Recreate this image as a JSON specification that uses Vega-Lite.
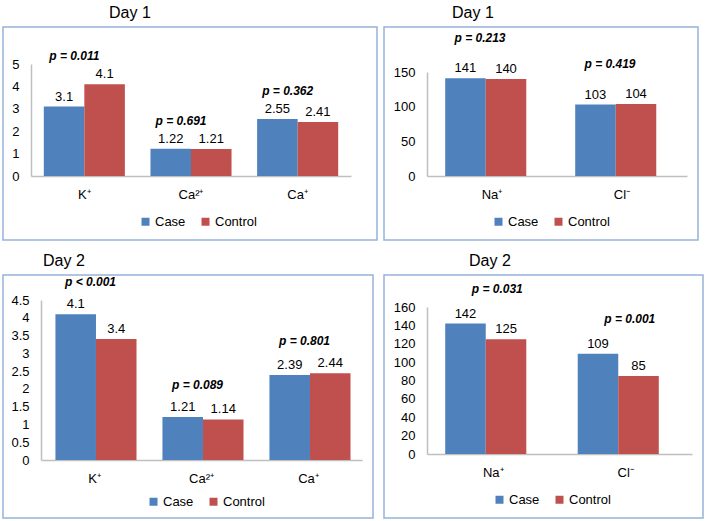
{
  "$schema": "https://vega.github.io/schema/vega-lite/v6.json",
  "padding": {"left": 2, "top": 4, "right": 0, "bottom": 0},
  "columns": 2,
  "align": "each",
  "spacing": {"row": 11, "column": 5},
  "config": {
    "font": "Liberation Sans",
    "view": {"stroke": "#95B3D7", "strokeWidth": 1.5},
    "axis": {"domainColor": "#BFBFBF", "domainWidth": 1.5, "ticks": false, "tickSize": 0, "grid": false, "labelFontSize": 13, "labelColor": "#000000", "labelPadding": 12, "labelOverlap": false, "labelBound": false},
    "title": {"fontSize": 16, "fontWeight": "normal", "anchor": "start", "offset": 6, "color": "#000000"},
    "legend": {"orient": "none", "direction": "horizontal", "symbolType": "square", "symbolSize": 64, "labelFontSize": 13, "labelColor": "#000000", "columnPadding": 13, "labelOffset": 3, "padding": 0, "symbolStrokeWidth": 0},
    "text": {"font": "Liberation Sans", "fontSize": 13, "color": "#000000"}
  },
  "resolve": {"scale": {"color": "independent", "x": "independent", "y": "independent"}, "legend": {"color": "independent"}},
  "datasets": {
    "d1a": [
      {"ion": "K⁺", "group": "Case", "value": 3.1, "p": "p = 0.011"},
      {"ion": "K⁺", "group": "Control", "value": 4.1, "p": "p = 0.011"},
      {"ion": "Ca²⁺", "group": "Case", "value": 1.22, "p": "p = 0.691"},
      {"ion": "Ca²⁺", "group": "Control", "value": 1.21, "p": "p = 0.691"},
      {"ion": "Ca⁺", "group": "Case", "value": 2.55, "p": "p = 0.362"},
      {"ion": "Ca⁺", "group": "Control", "value": 2.41, "p": "p = 0.362"}
    ],
    "d1b": [
      {"ion": "Na⁺", "group": "Case", "value": 141, "p": "p = 0.213"},
      {"ion": "Na⁺", "group": "Control", "value": 140, "p": "p = 0.213"},
      {"ion": "Cl⁻", "group": "Case", "value": 103, "p": "p = 0.419"},
      {"ion": "Cl⁻", "group": "Control", "value": 104, "p": "p = 0.419"}
    ],
    "d2a": [
      {"ion": "K⁺", "group": "Case", "value": 4.1, "p": "p < 0.001"},
      {"ion": "K⁺", "group": "Control", "value": 3.4, "p": "p < 0.001"},
      {"ion": "Ca²⁺", "group": "Case", "value": 1.21, "p": "p = 0.089"},
      {"ion": "Ca²⁺", "group": "Control", "value": 1.14, "p": "p = 0.089"},
      {"ion": "Ca⁺", "group": "Case", "value": 2.39, "p": "p = 0.801"},
      {"ion": "Ca⁺", "group": "Control", "value": 2.44, "p": "p = 0.801"}
    ],
    "d2b": [
      {"ion": "Na⁺", "group": "Case", "value": 142, "p": "p = 0.031"},
      {"ion": "Na⁺", "group": "Control", "value": 125, "p": "p = 0.031"},
      {"ion": "Cl⁻", "group": "Case", "value": 109, "p": "p = 0.001"},
      {"ion": "Cl⁻", "group": "Control", "value": 85, "p": "p = 0.001"}
    ]
  },
  "concat": [
    {
      "title": {"text": "Day 1", "dx": 106},
      "width": 374, "height": 213,
      "data": {"name": "d1a"},
      "encoding": {
        "x": {"field": "ion", "type": "nominal", "sort": ["K⁺", "Ca²⁺", "Ca⁺"],
              "scale": {"range": [28, 348], "paddingInner": 0.24, "paddingOuter": 0.12},
              "axis": {"title": null, "labelAngle": 0, "offset": -64, "orient": "bottom"}}
      },
      "layer": [
        {"mark": {"type": "bar"},
         "encoding": {
           "xOffset": {"field": "group", "type": "nominal", "sort": ["Case", "Control"]},
           "y": {"field": "value", "type": "quantitative", "scale": {"domain": [0, 5], "range": [149, 37], "nice": false},
                 "axis": {"title": null, "offset": -28, "values": [0, 1, 2, 3, 4, 5], "tickCount": 12, "format": "~g", "labelOverlap": false}},
           "color": {"field": "group", "type": "nominal", "scale": {"domain": ["Case", "Control"], "range": ["#4F81BD", "#C0504D"]},
                     "legend": {"title": null, "legendX": 136, "legendY": 188}}
         }},
        {"mark": {"type": "text", "baseline": "alphabetic", "dy": -6},
         "encoding": {
           "xOffset": {"field": "group", "type": "nominal", "sort": ["Case", "Control"]},
           "y": {"field": "value", "type": "quantitative"},
           "text": {"field": "value", "type": "quantitative", "format": "~g"}
         }},
        {"mark": {"type": "text", "baseline": "middle", "dy": -28, "dx": -10, "fontWeight": "bold", "fontStyle": "italic", "fontSize": 12},
         "encoding": {
           "y": {"aggregate": "max", "field": "value", "type": "quantitative"},
           "text": {"field": "p", "type": "nominal"}
         }}
      ]
    },
    {
      "title": {"text": "Day 1", "dx": 68},
      "width": 314, "height": 213,
      "data": {"name": "d1b"},
      "encoding": {
        "x": {"field": "ion", "type": "nominal", "sort": ["Na⁺", "Cl⁻"],
              "scale": {"range": [43, 303], "paddingInner": 0.28, "paddingOuter": 0.14},
              "axis": {"title": null, "labelAngle": 0, "offset": -64, "orient": "bottom"}}
      },
      "layer": [
        {"mark": {"type": "bar"},
         "encoding": {
           "xOffset": {"field": "group", "type": "nominal", "sort": ["Case", "Control"]},
           "y": {"field": "value", "type": "quantitative", "scale": {"domain": [0, 150], "range": [149, 45], "nice": false},
                 "axis": {"title": null, "offset": -43, "values": [0, 50, 100, 150], "tickCount": 12, "labelOverlap": false}},
           "color": {"field": "group", "type": "nominal", "scale": {"domain": ["Case", "Control"], "range": ["#4F81BD", "#C0504D"]},
                     "legend": {"title": null, "legendX": 108, "legendY": 188}}
         }},
        {"mark": {"type": "text", "baseline": "alphabetic", "dy": -6},
         "encoding": {
           "xOffset": {"field": "group", "type": "nominal", "sort": ["Case", "Control"]},
           "y": {"field": "value", "type": "quantitative"},
           "text": {"field": "value", "type": "quantitative", "format": "~g"}
         }},
        {"mark": {"type": "text", "baseline": "middle", "dy": -40, "dx": -12, "fontWeight": "bold", "fontStyle": "italic", "fontSize": 12},
         "encoding": {
           "y": {"aggregate": "max", "field": "value", "type": "quantitative"},
           "text": {"field": "p", "type": "nominal"}
         }}
      ]
    },
    {
      "title": {"text": "Day 2", "dx": 40},
      "width": 370, "height": 243,
      "data": {"name": "d2a"},
      "encoding": {
        "x": {"field": "ion", "type": "nominal", "sort": ["K⁺", "Ca²⁺", "Ca⁺"],
              "scale": {"range": [38, 359], "paddingInner": 0.27, "paddingOuter": 0.135},
              "axis": {"title": null, "labelAngle": 0, "offset": -58, "orient": "bottom"}}
      },
      "layer": [
        {"mark": {"type": "bar"},
         "encoding": {
           "xOffset": {"field": "group", "type": "nominal", "sort": ["Case", "Control"]},
           "y": {"field": "value", "type": "quantitative", "scale": {"domain": [0, 4.5], "range": [185, 25], "nice": false},
                 "axis": {"title": null, "offset": -38, "values": [0, 0.5, 1, 1.5, 2, 2.5, 3, 3.5, 4, 4.5], "tickCount": 12, "format": "~g", "labelOverlap": false}},
           "color": {"field": "group", "type": "nominal", "scale": {"domain": ["Case", "Control"], "range": ["#4F81BD", "#C0504D"]},
                     "legend": {"title": null, "legendX": 144, "legendY": 220}}
         }},
        {"mark": {"type": "text", "baseline": "alphabetic", "dy": -6},
         "encoding": {
           "xOffset": {"field": "group", "type": "nominal", "sort": ["Case", "Control"]},
           "y": {"field": "value", "type": "quantitative"},
           "text": {"field": "value", "type": "quantitative", "format": "~g"}
         }},
        {"mark": {"type": "text", "baseline": "middle", "dy": -32, "dx": -4, "fontWeight": "bold", "fontStyle": "italic", "fontSize": 12},
         "encoding": {
           "y": {"aggregate": "max", "field": "value", "type": "quantitative"},
           "text": {"field": "p", "type": "nominal"}
         }}
      ]
    },
    {
      "title": {"text": "Day 2", "dx": 85},
      "width": 319, "height": 243,
      "data": {"name": "d2b"},
      "encoding": {
        "x": {"field": "ion", "type": "nominal", "sort": ["Na⁺", "Cl⁻"],
              "scale": {"range": [43, 308], "paddingInner": 0.275, "paddingOuter": 0.1375},
              "axis": {"title": null, "labelAngle": 0, "offset": -64, "orient": "bottom"}}
      },
      "layer": [
        {"mark": {"type": "bar"},
         "encoding": {
           "xOffset": {"field": "group", "type": "nominal", "sort": ["Case", "Control"]},
           "y": {"field": "value", "type": "quantitative", "scale": {"domain": [0, 160], "range": [179, 32], "nice": false},
                 "axis": {"title": null, "offset": -43, "values": [0, 20, 40, 60, 80, 100, 120, 140, 160], "tickCount": 12, "labelOverlap": false}},
           "color": {"field": "group", "type": "nominal", "scale": {"domain": ["Case", "Control"], "range": ["#4F81BD", "#C0504D"]},
                     "legend": {"title": null, "legendX": 109, "legendY": 218}}
         }},
        {"mark": {"type": "text", "baseline": "alphabetic", "dy": -6},
         "encoding": {
           "xOffset": {"field": "group", "type": "nominal", "sort": ["Case", "Control"]},
           "y": {"field": "value", "type": "quantitative"},
           "text": {"field": "value", "type": "quantitative", "format": "~g"}
         }},
        {"mark": {"type": "text", "baseline": "middle", "dy": -35, "dx": 4, "fontWeight": "bold", "fontStyle": "italic", "fontSize": 12},
         "encoding": {
           "y": {"aggregate": "max", "field": "value", "type": "quantitative"},
           "text": {"field": "p", "type": "nominal"}
         }}
      ]
    }
  ]
}
